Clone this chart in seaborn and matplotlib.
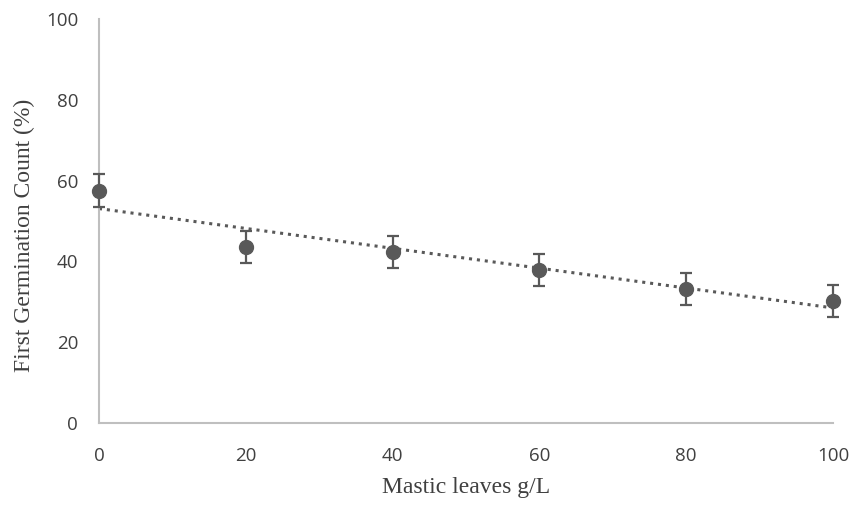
import numpy as np
import pandas as pd
import matplotlib
matplotlib.use("Agg")
import matplotlib.pyplot as plt
import seaborn as sns

dose = [0, 20, 40, 60, 80, 100]
germination = [57.5, 43.6, 42.3, 37.9, 33.2, 30.2]
errors = [4.1, 4.0, 4.0, 3.9, 3.9, 4.0]
x_ticks = [0, 20, 40, 60, 80, 100]
y_ticks = [0, 20, 40, 60, 80, 100]

df = pd.DataFrame({"dose": dose, "germ": germination, "err": errors})

sns.set_style("white")
fig = plt.figure(figsize=(8.53, 5.05), dpi=100)
# axes: x from 99 to 833 px, y from 19 to 423 px
ax = fig.add_axes([99 / 853, (505 - 423) / 505, 734 / 853, 404 / 505])

col = "#595959"
sns.regplot(data=df, x="dose", y="germ", ax=ax, scatter=False, ci=None,
            truncate=True,
            line_kws=dict(color=col, linestyle=(0, (1, 1.6)), linewidth=2.2))
ax.errorbar(df["dose"], df["germ"], yerr=df["err"], fmt="o", color=col,
            markersize=10, capsize=4.5, elinewidth=1.6, capthick=1.6,
            clip_on=False, zorder=3)

ax.set_xlim(0, 100)
ax.set_ylim(0, 100)
ax.set_xticks(x_ticks)
ax.set_yticks(y_ticks)
tick_font = dict(family=["Open Sans", "DejaVu Sans"], size=13.5)
ax.set_xticklabels([str(t) for t in x_ticks], **tick_font, color="#404040")
ax.set_yticklabels([str(t) for t in y_ticks], **tick_font, color="#404040")
ax.tick_params(axis="x", length=0, pad=17)
ax.tick_params(axis="y", length=0, pad=15)

lab_font = dict(family=["Liberation Serif", "DejaVu Serif"], size=17, color="#404040")
ax.set_xlabel("Mastic leaves g/L", **lab_font)
ax.set_ylabel("First Germination Count (%)", **lab_font)
ax.xaxis.label.set_va("center")
ax.yaxis.label.set_va("center")
ax.xaxis.set_label_coords(0.5, -64 / 404)
ax.yaxis.set_label_coords(-75 / 734, 0.465)

for s in ["top", "right"]:
    ax.spines[s].set_visible(False)
for s in ["left", "bottom"]:
    ax.spines[s].set_color("#bfbfbf")
    ax.spines[s].set_linewidth(1.5)

fig.savefig("out.png", dpi=100)
